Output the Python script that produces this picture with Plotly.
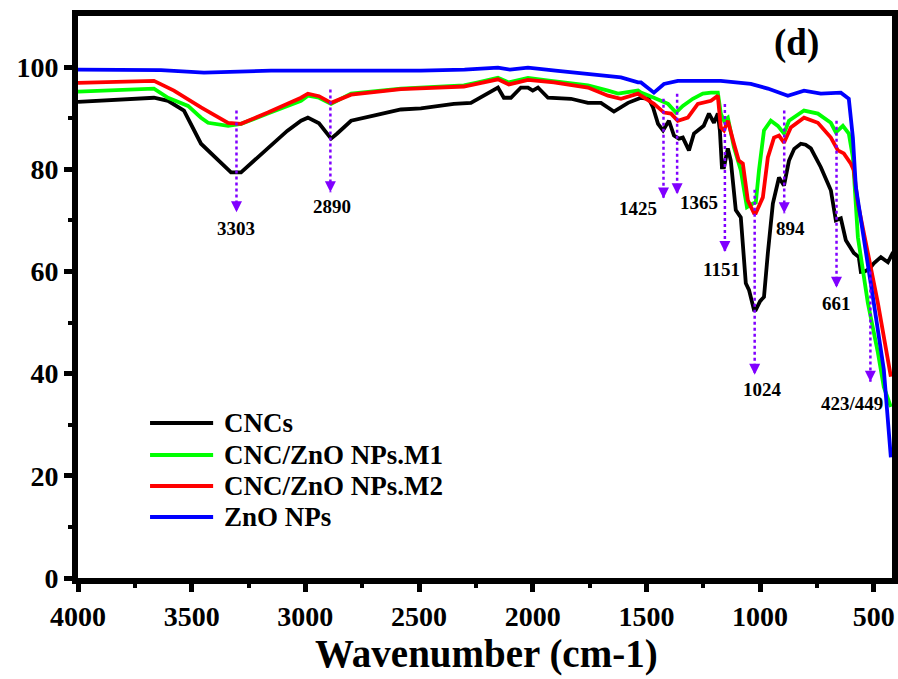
import plotly.graph_objects as go

# ---- FTIR spectra: wavenumber (cm-1) and transmittance (%) ----
cnc_wn = [4000, 3800, 3666, 3604, 3534, 3459, 3384, 3327, 3283, 3230, 3165, 3080, 3019, 2989,
          2940, 2887, 2860, 2799, 2700, 2580, 2492, 2347, 2272, 2197, 2153, 2127, 2096, 2052,
          2021, 2000, 1977, 1933, 1832, 1757, 1700, 1643, 1581, 1524, 1490, 1471, 1449, 1427,
          1401, 1379, 1357, 1340, 1313, 1291, 1248, 1225, 1203, 1186, 1177, 1168, 1159, 1142,
          1129, 1107, 1085, 1063, 1049, 1027, 1019, 1000, 983, 966, 944, 917, 895, 873, 850,
          821, 800, 777, 733, 689, 667, 645, 623, 588, 566, 557, 540, 520, 500, 469, 438, 415]
cnc_t = [93.2, 93.6, 94.0, 93.4, 91.5, 85.0, 81.7, 79.4, 79.4, 81.5, 84.3, 87.5, 89.5, 90.1,
         89.0, 86.0, 87.0, 89.5, 90.5, 91.7, 91.9, 92.8, 93.0, 94.8, 96.0, 94.0, 94.0, 96.0,
         96.0, 95.4, 96.0, 94.0, 93.8, 93.0, 93.0, 91.3, 93.0, 94.0, 93.8, 92.1, 88.9, 87.6,
         89.5, 86.6, 86.0, 86.2, 83.7, 87.0, 88.5, 90.9, 89.1, 90.9, 87.6, 80.4, 80.4, 84.1,
         81.7, 72.0, 70.6, 57.7, 56.4, 52.5, 52.5, 54.2, 55.0, 63.6, 73.3, 78.4, 76.8, 81.7, 84.0,
         85.0, 84.8, 84.1, 80.4, 75.9, 70.0, 70.4, 66.1, 63.6, 62.8, 59.9, 60.0, 60.5, 61.6, 62.8,
         61.8, 63.8]

m1_wn = [4000, 3800, 3666, 3604, 3516, 3459, 3428, 3340, 3283, 3165, 3019, 2989, 2940, 2887,
         2799, 2580, 2303, 2240, 2153, 2105, 2021, 1920, 1757, 1669, 1625, 1537, 1524, 1467,
         1405, 1370, 1340, 1296, 1252, 1216, 1186, 1173, 1159, 1142, 1115, 1085, 1058, 1032,
         1019, 1005, 983, 953, 922, 895, 873, 807, 746, 689, 667, 636, 610, 592, 570, 526, 482,
         456, 434, 425]
m1_t = [95.2, 95.5, 95.8, 94.0, 92.4, 90.1, 89.1, 88.5, 88.9, 90.9, 93.4, 94.4, 94.0, 92.8,
        94.8, 95.8, 96.4, 97.0, 97.9, 97.0, 97.9, 97.3, 96.4, 95.4, 94.8, 95.4, 95.0, 94.0,
        92.8, 91.1, 92.4, 93.8, 94.8, 95.0, 95.0, 90.9, 89.5, 90.1, 84.3, 79.8, 72.6, 73.3,
        73.5, 79.8, 87.6, 89.5, 88.5, 87.0, 89.5, 91.5, 90.9, 89.1, 87.2, 88.5, 87.0, 82.3,
        66.7, 53.8, 44.1, 37.4, 34.3, 33.5]

m2_wn = [4000, 3800, 3666, 3578, 3459, 3340, 3283, 3165, 3019, 2989, 2940, 2887, 2799, 2580,
         2303, 2153, 2105, 2021, 1907, 1757, 1669, 1612, 1537, 1524, 1467, 1423, 1392, 1362,
         1318, 1274, 1216, 1186, 1173, 1159, 1142, 1115, 1094, 1076, 1054, 1027, 1019, 988, 966,
         939, 917, 895, 865, 807, 746, 689, 658, 632, 601, 588, 570, 526, 482, 438, 425]
m2_t = [96.9, 97.1, 97.3, 95.4, 92.1, 89.1, 88.9, 91.1, 94.0, 94.8, 94.3, 93.0, 94.6, 95.7,
        96.2, 97.6, 96.6, 97.5, 97.0, 96.0, 94.4, 93.8, 94.8, 94.4, 92.8, 91.1, 90.9, 89.5,
        90.1, 92.8, 93.4, 94.4, 88.2, 87.6, 89.5, 85.0, 81.7, 81.1, 73.9, 71.4, 71.4, 74.5, 82.3,
        86.2, 86.6, 85.2, 88.2, 90.1, 89.1, 86.2, 83.7, 83.1, 81.1, 79.8, 73.3, 63.6, 53.8, 42.7,
        39.4]

zno_wn = [4000, 3800, 3635, 3446, 3151, 2800, 2492, 2300, 2153, 2100, 2021, 1900, 1757, 1612,
          1537, 1524, 1467, 1423, 1362, 1173, 1041, 966, 878, 807, 733, 645, 610, 592, 579, 544,
          500, 456, 434, 425]
zno_t = [99.5, 99.4, 99.4, 98.9, 99.3, 99.3, 99.3, 99.5, 99.9, 99.5, 99.9, 99.3, 98.7, 98.0,
         97.0, 97.0, 95.0, 96.7, 97.3, 97.3, 96.7, 95.8, 94.4, 95.4, 94.8, 95.0, 93.8, 86.2, 76.5,
         66.7, 53.8, 40.8, 27.7, 23.6]

series_names = ["CNCs", "CNC/ZnO NPs.M1", "CNC/ZnO NPs.M2", "ZnO NPs"]
series_colors = ["#000000", "#00FF00", "#FF0000", "#0000FF"]

# ---- band assignments: marker position, dotted-guide span and label placement ----
band_labels = ["3303", "2890", "1425", "1365", "1151", "1024", "894", "661", "423/449"]
band_wn = [3303, 2890, 1425, 1365, 1155, 1024, 894, 664, 515]
band_top = [91.5, 95.6, 93.8, 94.8, 92.8, 76.0, 91.5, 89.5, 60.0]
band_tip = [71.6, 75.5, 74.3, 75.1, 63.8, 39.8, 71.4, 56.8, 38.4]
label_wn = [3303, 2885, 1537, 1269, 1168, 988, 865, 662, 596]
label_t = [68.4, 72.8, 72.4, 73.5, 60.3, 36.9, 68.4, 53.8, 34.1]

FONT = "Liberation Serif, Times New Roman, serif"
ARROW = "#8000FF"

fig = go.Figure()

for wn, t, name, col in zip([cnc_wn, m1_wn, m2_wn, zno_wn], [cnc_t, m1_t, m2_t, zno_t],
                            series_names, series_colors):
    fig.add_trace(go.Scatter(x=wn, y=t, mode="lines", name=name, showlegend=False,
                             line=dict(color=col, width=3.8)))

# dotted guides with arrowheads
for wn, top, tip in zip(band_wn, band_top, band_tip):
    fig.add_trace(go.Scatter(x=[wn, wn], y=[top, tip], mode="lines", showlegend=False,
                             hoverinfo="skip", line=dict(color=ARROW, width=2.5, dash="dot")))
    fig.add_trace(go.Scatter(x=[wn], y=[tip], mode="markers", showlegend=False,
                             hoverinfo="skip",
                             marker=dict(symbol="arrow-down", size=11, color=ARROW,
                                         line=dict(width=0))))

for txt, x, y in zip(band_labels, label_wn, label_t):
    fig.add_annotation(x=x, y=y, xref="x", yref="y", text=txt, showarrow=False,
                       xanchor="center", yanchor="middle",
                       font=dict(family=FONT, size=19, color="black", weight="bold"))

fig.add_annotation(x=0.883, y=0.952, xref="paper", yref="paper", text="(d)", showarrow=False,
                   xanchor="center", yanchor="middle",
                   font=dict(family=FONT, size=37, color="black", weight="bold"))

# x-axis title, centred under the plot
fig.add_annotation(x=0.502, y=-0.1352, xref="paper", yref="paper", text="Wavenumber (cm-1)",
                   showarrow=False, xanchor="center", yanchor="middle",
                   font=dict(family=FONT, size=39, color="black", weight="bold"))

# key: short line sample followed by the series name
key_x0, key_x1, key_text_x = 0.0885, 0.166, 0.177
key_rows = [0.2758, 0.2189, 0.1637, 0.1085]
for name, col, ky in zip(series_names, series_colors, key_rows):
    fig.add_shape(type="line", xref="paper", yref="paper", x0=key_x0, x1=key_x1, y0=ky, y1=ky,
                  line=dict(color=col, width=4))
    fig.add_annotation(x=key_text_x, y=ky, xref="paper", yref="paper", text=name,
                       showarrow=False, xanchor="left", yanchor="middle",
                       font=dict(family=FONT, size=27, color="black", weight="bold"))

axis_common = dict(showline=True, linecolor="black", linewidth=6, mirror=True,
                   ticks="outside", tickcolor="black", tickwidth=5, ticklen=8,
                   showgrid=False, zeroline=False, automargin=False,
                   tickfont=dict(family=FONT, size=28, color="black", weight="bold"))

fig.update_layout(
    width=898, height=679,
    margin=dict(l=78, r=6, t=16, b=101),
    paper_bgcolor="white", plot_bgcolor="white",
    font=dict(family=FONT, color="black"),
    xaxis=dict(range=[4000, 420], tickmode="array",
               tickvals=[4000, 3500, 3000, 2500, 2000, 1500, 1000, 500],
               minor=dict(ticks="outside", tickvals=[3750, 3250, 2750, 2250, 1750, 1250, 750],
                          ticklen=4, tickwidth=4, tickcolor="black", showgrid=False),
               **axis_common),
    yaxis=dict(range=[0, 110], tickmode="array", tickvals=[0, 20, 40, 60, 80, 100],
               minor=dict(ticks="outside", tickvals=[10, 30, 50, 70, 90],
                          ticklen=4, tickwidth=4, tickcolor="black", showgrid=False),
               **axis_common),
    showlegend=False,
)

fig.write_html("out.html")
